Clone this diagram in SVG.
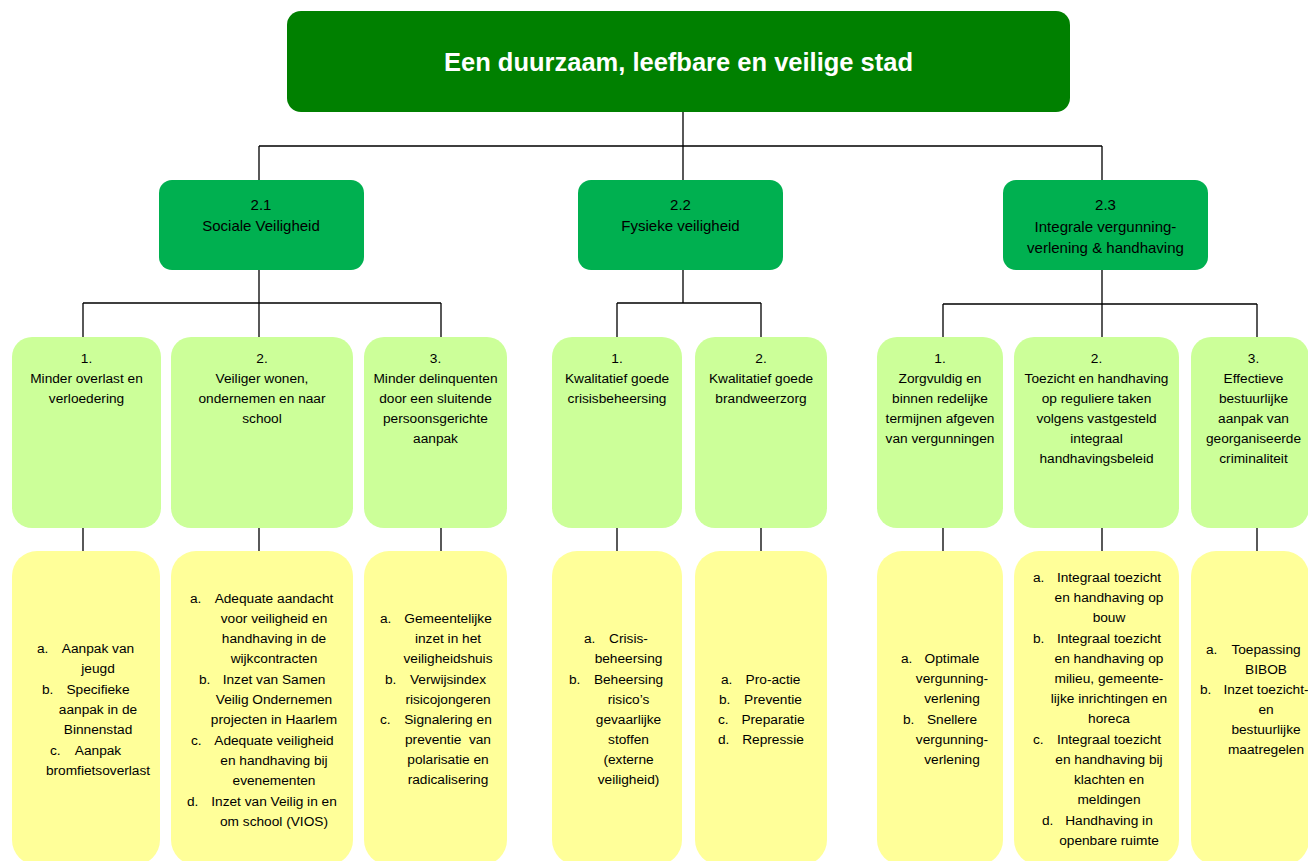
<svg xmlns="http://www.w3.org/2000/svg" width="1308" height="861" viewBox="0 0 1308 861">
<style>
.bg{fill:#ffffff}
.n0{fill:#008000}
.n2{fill:#00B050}
.n3{fill:#CCFF99}
.n4{fill:#FFFF99}
.c{stroke:#000;stroke-width:1.3;fill:none}
text{font-family:"Liberation Sans",Arial,sans-serif;fill:#000}
.t0{font-size:25.5px;font-weight:bold;fill:#fff;text-anchor:middle}
.t2{font-size:15px;text-anchor:middle}
.t3{font-size:13.7px;text-anchor:middle}
.lb{font-size:13.7px;text-anchor:start}
</style>
<rect class="bg" x="0" y="0" width="1308" height="861"/>
<g id="connectors">
<path class="c" d="M683,112V146M259,146H1102M259,146V180M683,146V180M1102,146V180"/>
<path class="c" d="M259,270V303M83,303H441M83,303V337M259,303V337M441,303V337"/>
<path class="c" d="M683,270V303M617,303H761M617,303V337M761,303V337"/>
<path class="c" d="M1102,270V304M943,304H1257M943,304V337M1102,304V337M1257,304V337"/>
<path class="c" d="M83,528V551M259,528V551M441,528V551M617,528V551M761,528V551M943,528V551M1102,528V551M1257,528V551"/>
</g>
<g id="root">
<rect class="n0" x="287" y="11" width="783" height="101" rx="14"/>
<text class="t0" x="678.5" y="71">Een duurzaam, leefbare en veilige stad</text>
</g>
<g id="n21">
<rect class="n2" x="159" y="180" width="205" height="90" rx="13"/>
<text class="t2" x="261" y="210">2.1</text>
<text class="t2" x="261" y="231">Sociale Veiligheid</text>
</g>
<g id="n22">
<rect class="n2" x="578" y="180" width="205" height="90" rx="13"/>
<text class="t2" x="680.5" y="210">2.2</text>
<text class="t2" x="680.5" y="231">Fysieke veiligheid</text>
</g>
<g id="n23">
<rect class="n2" x="1003" y="180" width="205" height="90" rx="13"/>
<text class="t2" x="1105.5" y="210">2.3</text>
<text class="t2" x="1105.5" y="231.5">Integrale vergunning-</text>
<text class="t2" x="1105.5" y="253">verlening &amp; handhaving</text>
</g>
<g id="n211">
<rect class="n3" x="12" y="337" width="149" height="191" rx="20"/>
<text class="t3" x="86.5" y="363">1.</text>
<text class="t3" x="86.5" y="383">Minder overlast en</text>
<text class="t3" x="86.5" y="403">verloedering</text>
</g>
<g id="n212">
<rect class="n3" x="171" y="337" width="182" height="191" rx="20"/>
<text class="t3" x="262" y="363">2.</text>
<text class="t3" x="262" y="383">Veiliger wonen,</text>
<text class="t3" x="262" y="403">ondernemen en naar</text>
<text class="t3" x="262" y="423">school</text>
</g>
<g id="n213">
<rect class="n3" x="364" y="337" width="143" height="191" rx="20"/>
<text class="t3" x="435.5" y="363">3.</text>
<text class="t3" x="435.5" y="383">Minder delinquenten</text>
<text class="t3" x="435.5" y="403">door een sluitende</text>
<text class="t3" x="435.5" y="423">persoonsgerichte</text>
<text class="t3" x="435.5" y="443">aanpak</text>
</g>
<g id="n221">
<rect class="n3" x="552" y="337" width="130" height="191" rx="20"/>
<text class="t3" x="617" y="363">1.</text>
<text class="t3" x="617" y="383">Kwalitatief goede</text>
<text class="t3" x="617" y="403">crisisbeheersing</text>
</g>
<g id="n222">
<rect class="n3" x="695" y="337" width="132" height="191" rx="20"/>
<text class="t3" x="761" y="363">2.</text>
<text class="t3" x="761" y="383">Kwalitatief goede</text>
<text class="t3" x="761" y="403">brandweerzorg</text>
</g>
<g id="n231">
<rect class="n3" x="877" y="337" width="126" height="191" rx="20"/>
<text class="t3" x="940" y="363">1.</text>
<text class="t3" x="940" y="383">Zorgvuldig en</text>
<text class="t3" x="940" y="403">binnen redelijke</text>
<text class="t3" x="940" y="423">termijnen afgeven</text>
<text class="t3" x="940" y="443">van vergunningen</text>
</g>
<g id="n232">
<rect class="n3" x="1014" y="337" width="165" height="191" rx="20"/>
<text class="t3" x="1096.5" y="363">2.</text>
<text class="t3" x="1096.5" y="383">Toezicht en handhaving</text>
<text class="t3" x="1096.5" y="403">op reguliere taken</text>
<text class="t3" x="1096.5" y="423">volgens vastgesteld</text>
<text class="t3" x="1096.5" y="443">integraal</text>
<text class="t3" x="1096.5" y="463">handhavingsbeleid</text>
</g>
<g id="n233">
<rect class="n3" x="1191" y="337" width="118" height="191" rx="20"/>
<text class="t3" x="1253.5" y="363">3.</text>
<text class="t3" x="1253.5" y="383">Effectieve</text>
<text class="t3" x="1253.5" y="403">bestuurlijke</text>
<text class="t3" x="1253.5" y="423">aanpak van</text>
<text class="t3" x="1253.5" y="443">georganiseerde</text>
<text class="t3" x="1253.5" y="463">criminaliteit</text>
</g>
<g id="a211">
<rect class="n4" x="12" y="551" width="148" height="314" rx="25"/>
<text class="lb" x="37" y="653">a.</text><text class="t3" x="98" y="653">Aanpak van</text>
<text class="t3" x="98" y="673">jeugd</text>
<text class="lb" x="42" y="694">b.</text><text class="t3" x="98" y="694">Specifieke</text>
<text class="t3" x="98" y="714">aanpak in de</text>
<text class="t3" x="98" y="734">Binnenstad</text>
<text class="lb" x="50" y="755">c.</text><text class="t3" x="98" y="755">Aanpak</text>
<text class="t3" x="98" y="775">bromfietsoverlast</text>
</g>
<g id="a212">
<rect class="n4" x="171" y="551" width="182" height="314" rx="25"/>
<text class="lb" x="190" y="603">a.</text><text class="t3" x="274" y="603">Adequate aandacht</text>
<text class="t3" x="274" y="623">voor veiligheid en</text>
<text class="t3" x="274" y="643">handhaving in de</text>
<text class="t3" x="274" y="663">wijkcontracten</text>
<text class="lb" x="199" y="684">b.</text><text class="t3" x="274" y="684">Inzet van Samen</text>
<text class="t3" x="274" y="704">Veilig Ondernemen</text>
<text class="t3" x="274" y="724">projecten in Haarlem</text>
<text class="lb" x="191" y="745">c.</text><text class="t3" x="274" y="745">Adequate veiligheid</text>
<text class="t3" x="274" y="765">en handhaving bij</text>
<text class="t3" x="274" y="785">evenementen</text>
<text class="lb" x="187" y="806">d.</text><text class="t3" x="274" y="806">Inzet van Veilig in en</text>
<text class="t3" x="274" y="826">om school (VIOS)</text>
</g>
<g id="a213">
<rect class="n4" x="364" y="551" width="143" height="314" rx="25"/>
<text class="lb" x="380" y="623">a.</text><text class="t3" x="448" y="623">Gemeentelijke</text>
<text class="t3" x="448" y="643">inzet in het</text>
<text class="t3" x="448" y="663">veiligheidshuis</text>
<text class="lb" x="385" y="684">b.</text><text class="t3" x="448" y="684">Verwijsindex</text>
<text class="t3" x="448" y="704">risicojongeren</text>
<text class="lb" x="380" y="724">c.</text><text class="t3" x="448" y="724">Signalering en</text>
<text class="t3" x="448" y="744">preventie&#160; van</text>
<text class="t3" x="448" y="764">polarisatie en</text>
<text class="t3" x="448" y="784">radicalisering</text>
</g>
<g id="a221">
<rect class="n4" x="552" y="551" width="130" height="314" rx="25"/>
<text class="lb" x="584" y="643">a.</text><text class="t3" x="628.5" y="643">Crisis-</text>
<text class="t3" x="628.5" y="663">beheersing</text>
<text class="lb" x="569" y="684">b.</text><text class="t3" x="628.5" y="684">Beheersing</text>
<text class="t3" x="628.5" y="704">risico’s</text>
<text class="t3" x="628.5" y="724">gevaarlijke</text>
<text class="t3" x="628.5" y="744">stoffen</text>
<text class="t3" x="628.5" y="764">(externe</text>
<text class="t3" x="628.5" y="784">veiligheid)</text>
</g>
<g id="a222">
<rect class="n4" x="695" y="551" width="132" height="314" rx="25"/>
<text class="lb" x="721" y="684">a.</text><text class="t3" x="773" y="684">Pro-actie</text>
<text class="lb" x="719" y="704">b.</text><text class="t3" x="773" y="704">Preventie</text>
<text class="lb" x="718" y="724">c.</text><text class="t3" x="773" y="724">Preparatie</text>
<text class="lb" x="718" y="744">d.</text><text class="t3" x="773" y="744">Repressie</text>
</g>
<g id="a231">
<rect class="n4" x="877" y="551" width="126" height="314" rx="25"/>
<text class="lb" x="901" y="663">a.</text><text class="t3" x="952" y="663">Optimale</text>
<text class="t3" x="952" y="683">vergunning-</text>
<text class="t3" x="952" y="703">verlening</text>
<text class="lb" x="903" y="724">b.</text><text class="t3" x="952" y="724">Snellere</text>
<text class="t3" x="952" y="744">vergunning-</text>
<text class="t3" x="952" y="764">verlening</text>
</g>
<g id="a232">
<rect class="n4" x="1014" y="551" width="165" height="314" rx="25"/>
<text class="lb" x="1033" y="582">a.</text><text class="t3" x="1109" y="582">Integraal toezicht</text>
<text class="t3" x="1109" y="602">en handhaving op</text>
<text class="t3" x="1109" y="622">bouw</text>
<text class="lb" x="1033" y="643">b.</text><text class="t3" x="1109" y="643">Integraal toezicht</text>
<text class="t3" x="1109" y="663">en handhaving op</text>
<text class="t3" x="1109" y="683">milieu, gemeente-</text>
<text class="t3" x="1109" y="703">lijke inrichtingen en</text>
<text class="t3" x="1109" y="723">horeca</text>
<text class="lb" x="1033" y="744">c.</text><text class="t3" x="1109" y="744">Integraal toezicht</text>
<text class="t3" x="1109" y="764">en handhaving bij</text>
<text class="t3" x="1109" y="784">klachten en</text>
<text class="t3" x="1109" y="804">meldingen</text>
<text class="lb" x="1042" y="825">d.</text><text class="t3" x="1109" y="825">Handhaving in</text>
<text class="t3" x="1109" y="845">openbare ruimte</text>
</g>
<g id="a233">
<rect class="n4" x="1191" y="551" width="118" height="314" rx="25"/>
<text class="lb" x="1206" y="654">a.</text><text class="t3" x="1266" y="654">Toepassing</text>
<text class="t3" x="1266" y="674">BIBOB</text>
<text class="lb" x="1200" y="694">b.</text><text class="t3" x="1266" y="694">Inzet toezicht-</text>
<text class="t3" x="1266" y="714">en</text>
<text class="t3" x="1266" y="734">bestuurlijke</text>
<text class="t3" x="1266" y="754">maatregelen</text>
</g>
</svg>
